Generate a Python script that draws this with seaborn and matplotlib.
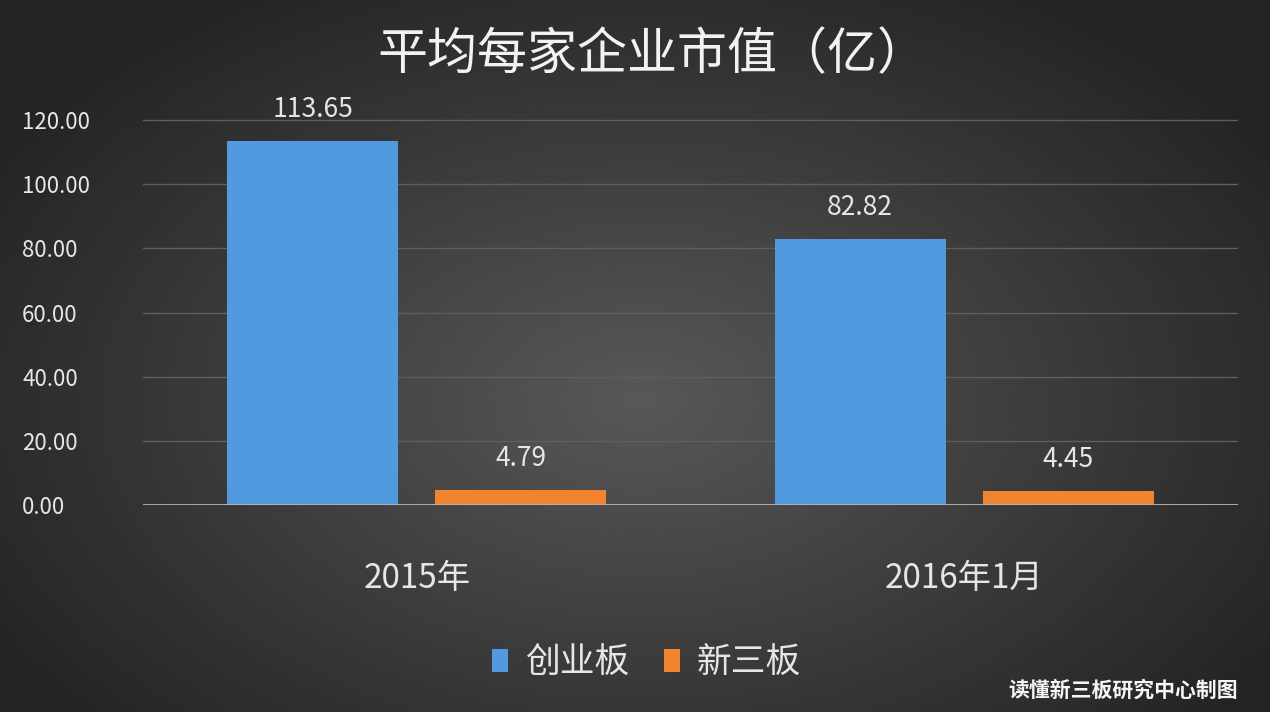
import numpy as np
import pandas as pd
import seaborn as sns
import matplotlib.pyplot as plt

# data
periods = ["2015年", "2016年1月"]
boards = ["创业板", "新三板"]
values_cyb = [113.65, 82.82]
values_xsb = [4.79, 4.45]
yticks = [0, 20, 40, 60, 80, 100, 120]

df = pd.DataFrame({
    "period": periods * 2,
    "board": [boards[0]] * len(periods) + [boards[1]] * len(periods),
    "value": values_cyb + values_xsb,
})

sns.set_theme(style="dark")
plt.rcParams['font.family'] = ['Noto Sans CJK SC', 'DejaVu Sans']

txt_col = "#e6e6e6"
palette = {"创业板": "#519ae0", "新三板": "#f2842f"}

fig = plt.figure(figsize=(12.7, 7.12), dpi=100)

# dark radial background
bg = fig.add_axes([0, 0, 1, 1], zorder=-10)
xx, yy = np.meshgrid(np.linspace(0, 1270, 400), np.linspace(0, 712, 240))
r = np.sqrt(((xx - 640) / 820) ** 2 + ((yy - 400) / 520) ** 2)
shade = np.clip(0.345 - 0.22 * r, 0.14, 0.35)
bg.imshow(shade, cmap="gray", vmin=0, vmax=1, aspect="auto",
          extent=[0, 1270, 712, 0])
bg.set_axis_off()

ax = fig.add_axes([0.1126, 0.2907, 0.8622, 0.5630])
ax.patch.set_alpha(0)

sns.barplot(data=df, x="period", y="value", hue="board", palette=palette,
            width=0.76, gap=0.18, saturation=1, ax=ax, zorder=3,
            edgecolor="none")

for cont in ax.containers:
    ax.bar_label(cont, fmt="%.2f", padding=13, color=txt_col, fontsize=19)

ax.set_xlim(-0.5, 1.5)
ax.set_ylim(0, 125)
ax.set_yticks(yticks)
ax.set_yticklabels([f"{v:.2f}" for v in yticks], color=txt_col, fontsize=16)
ax.tick_params(axis="y", length=0, pad=87)
for lab in ax.get_yticklabels():
    lab.set_horizontalalignment("left")
ax.tick_params(axis="x", length=0, pad=40, labelsize=24, labelcolor=txt_col)
ax.set_xlabel("")
ax.set_ylabel("")

ax.grid(axis="y", color="#5e5e5e", linewidth=1, zorder=0)
ax.grid(axis="x", visible=False)
for s in ax.spines.values():
    s.set_visible(False)
ax.axhline(0, color="#b5b5b5", linewidth=2, zorder=4)

handles, labels = ax.get_legend_handles_labels()
ax.legend(handles, labels, loc="center", bbox_to_anchor=(0.46, -0.395),
          ncol=2, frameon=False, fontsize=25, labelcolor=txt_col,
          handlelength=0.45, handleheight=0.65, handletextpad=0.5,
          columnspacing=1.0)

fig.text(0.514, 0.923, "平均每家企业市值（亿）", ha="center", va="center",
         fontsize=36, color="#f2f2f2")
fig.text(0.975, 0.03, "读懂新三板研究中心制图", ha="right", va="center",
         fontsize=15, color="#f5f5f5", fontweight="bold")

fig.savefig("out.png", dpi=100)
